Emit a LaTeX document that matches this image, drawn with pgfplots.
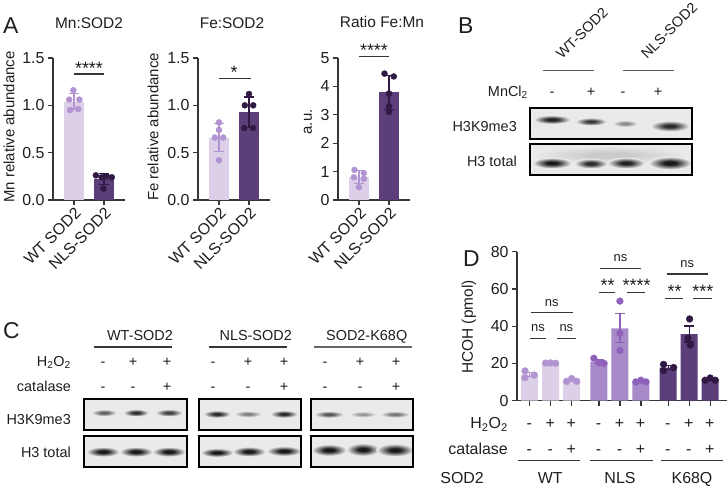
\documentclass[border=0pt]{standalone}
\usepackage{fontspec}
\setmainfont{Liberation Sans}
\usepackage{pgfplots}
\pgfplotsset{compat=1.18}

\definecolor{wtbar}{RGB}{220,208,232}
\definecolor{wtpt}{RGB}{178,148,210}
\definecolor{nlsbar}{RGB}{168,138,200}
\definecolor{nlspt}{RGB}{142,98,186}
\definecolor{dkbar}{RGB}{92,62,122}
\definecolor{dkpt}{RGB}{48,26,68}
\definecolor{axc}{RGB}{55,55,55}
\definecolor{txt}{RGB}{30,30,30}
\definecolor{blotbg}{RGB}{234,234,234}

\newcommand\fs[1]{\fontsize{#1}{#1}\selectfont}
\pgfdeclareradialshading{bandsh}{\pgfpoint{0bp}{0bp}}{rgb(0bp)=(0.08,0.08,0.08); rgb(7bp)=(0.12,0.12,0.12); rgb(24bp)=(0.918,0.918,0.918); rgb(50bp)=(0.918,0.918,0.918)}
\newcommand\band[5]{\shade[shading=bandsh, opacity=#5] (#1,#2) ellipse ({#3} and {#4});}

\tikzset{sig/.style={line width=1.2bp, axc}}
\pgfplotsset{
  myaxis/.style={
    scale only axis, axis x line*=bottom, axis y line*=left,
    axis line style={line width=1.2bp, axc, -},
    tick style={line width=1.2bp, axc},
    tick align=outside, major tick length=5bp,
    clip=false, enlargelimits=false,
    ticklabel style={font=\fs{16}, text=txt},
  },
  panelA/.style={myaxis, width=72bp, height=142bp, xmin=-0.7, xmax=1.7, ymin=0,
    xtick={0,1}, xticklabels={WT SOD2,NLS-SOD2},
    x tick label style={rotate=45, anchor=north east, inner sep=1bp},
  },
  ebar/.style={error bars/.cd, y dir=both, y explicit,
    error bar style={line width=1.2bp, #1},
    error mark options={rotate=90, mark size=5bp, line width=1.2bp, #1}},
  pts/.style={only marks, mark=*, mark size=3bp, #1, mark options={draw=none, fill=#1}},
}

\begin{document}
\begin{tikzpicture}

% ---------------- Panel A: Mn:SOD2
\begin{axis}[panelA, at={(53bp,-200bp)}, anchor=south west, ymax=1.5,
  ytick={0,0.5,1,1.5}, yticklabels={0.0,0.5,1.0,1.5}]
\addplot[ybar, bar width=20bp, bar shift=0pt, fill=wtbar, draw=none, ebar=wtpt] coordinates {(0,1.038) +- (0,0.086)};
\addplot[ybar, bar width=20bp, bar shift=0pt, fill=dkbar, draw=none, ebar=dkpt] coordinates {(1,0.222) +- (0,0.058)};
\addplot[pts=wtpt] coordinates {(-0.02,1.16) (-0.16,1.06) (0.18,1.06) (-0.13,0.95) (0.14,0.96)};
\addplot[pts=dkpt] coordinates {(0.73,0.26) (0.92,0.24) (1.09,0.25) (1.26,0.24) (0.98,0.12)};
\draw[sig] (axis cs:0,1.33) -- (axis cs:1,1.33);
\node[anchor=base, font=\fs{18}, inner sep=0, text=txt] at (axis cs:0.5,1.33) {****};
\end{axis}

% ---------------- Panel A: Fe:SOD2
\begin{axis}[panelA, at={(198bp,-200bp)}, anchor=south west, ymax=1.5,
  ytick={0,0.5,1,1.5}, yticklabels={0.0,0.5,1.0,1.5}]
\addplot[ybar, bar width=20bp, bar shift=0pt, fill=wtbar, draw=none, ebar=wtpt] coordinates {(0,0.66) +- (0,0.15)};
\addplot[ybar, bar width=20bp, bar shift=0pt, fill=dkbar, draw=none, ebar=dkpt] coordinates {(1,0.928) +- (0,0.161)};
\addplot[pts=wtpt] coordinates {(0,0.82) (0,0.74) (-0.14,0.66) (0.14,0.66) (0,0.42)};
\addplot[pts=dkpt] coordinates {(1,1.12) (0.86,1.0) (1.14,1.0) (0.84,0.76) (1.14,0.76)};
\draw[sig] (axis cs:0,1.28) -- (axis cs:1.05,1.28);
\node[anchor=base, font=\fs{18}, inner sep=0, text=txt] at (axis cs:0.5,1.28) {*};
\end{axis}

% ---------------- Panel A: Ratio Fe:Mn
\begin{axis}[panelA, at={(338bp,-200bp)}, anchor=south west, ymax=5,
  ytick={0,1,2,3,4,5}, yticklabels={0,1,2,3,4,5}]
\addplot[ybar, bar width=20bp, bar shift=0pt, fill=wtbar, draw=none, ebar=wtpt] coordinates {(0,0.80) +- (0,0.232)};
\addplot[ybar, bar width=20bp, bar shift=0pt, fill=dkbar, draw=none, ebar=dkpt] coordinates {(1,3.79) +- (0,0.605)};
\addplot[pts=wtpt] coordinates {(-0.15,1.06) (0.16,0.95) (-0.17,0.80) (0.16,0.75) (0,0.45)};
\addplot[pts=dkpt] coordinates {(0.85,4.45) (1.16,4.35) (1,3.75) (1,3.3) (1,3.1)};
\draw[sig] (axis cs:0,5.05) -- (axis cs:1,5.05);
\node[anchor=base, font=\fs{18}, inner sep=0, text=txt] at (axis cs:0.5,5.05) {****};
\end{axis}

% ---------------- Panel D
\begin{axis}[myaxis, at={(517bp,-400.7bp)}, anchor=south west, width=210bp, height=149bp,
  xmin=-0.6, xmax=9.4, ymin=0, ymax=80,
  ytick={0,20,40,60,80}, yticklabels={0,20,40,60,80},
  xtick={0,1,2,3.3,4.3,5.3,6.6,7.6,8.6}, xticklabels={}]
\addplot[ybar, bar width=17bp, bar shift=0pt, fill=wtbar, draw=none, ebar=wtpt] coordinates {(0,14.0) +- (0,1.15) (1,20.2) +- (0,0.3) (2,10.9) +- (0,0.5)};
\addplot[ybar, bar width=17bp, bar shift=0pt, fill=nlsbar, draw=none, ebar=nlspt] coordinates {(3.3,21.0) +- (0,0.9) (4.3,38.9) +- (0,7.8) (5.3,10.4) +- (0,0.3)};
\addplot[ybar, bar width=17bp, bar shift=0pt, fill=dkbar, draw=none, ebar=dkpt] coordinates {(6.6,17.8) +- (0,0.98) (7.6,35.8) +- (0,4.3) (8.6,11.4) +- (0,0.43)};
\addplot[pts=wtpt, mark size=3.4bp] coordinates {(-0.22,16.0) (0.22,13.8) (-0.22,12.4) (0.76,20.2) (1,20.3) (1.24,20.1) (1.76,10.4) (2,11.9) (2.24,10.4)};
\addplot[pts=nlspt, mark size=3.4bp] coordinates {(3.06,22.8) (3.3,20.4) (3.54,20.0) (4.3,53.5) (4.3,36.2) (4.3,27.0) (5.06,10.1) (5.3,11.0) (5.54,10.1)};
\addplot[pts=dkpt, mark size=3.4bp] coordinates {(6.38,19.5) (6.38,16.2) (6.86,17.8) (7.62,43.9) (7.54,33.5) (7.65,29.9) (8.36,11.0) (8.6,12.2) (8.84,11.0)};
% significance
\draw[sig] (axis cs:0.05,47.2) -- (axis cs:2.05,47.2);
\draw[sig] (axis cs:0.0,33.5) -- (axis cs:0.8,33.5);
\draw[sig] (axis cs:1.3,33.5) -- (axis cs:2.2,33.5);
\draw[sig] (axis cs:3.37,71.1) -- (axis cs:5.3,71.1);
\draw[sig] (axis cs:3.29,58.2) -- (axis cs:4.08,58.2);
\draw[sig] (axis cs:4.64,58.2) -- (axis cs:5.51,58.2);
\draw[sig] (axis cs:6.54,68) -- (axis cs:8.48,68);
\draw[sig] (axis cs:6.46,55) -- (axis cs:7.29,55);
\draw[sig] (axis cs:7.78,55) -- (axis cs:8.69,55);
\node[font=\fs{13}, anchor=base, inner sep=0, text=txt] at (axis cs:1.05,50.6) {ns};
\node[font=\fs{13}, anchor=base, inner sep=0, text=txt] at (axis cs:0.4,36.9) {ns};
\node[font=\fs{13}, anchor=base, inner sep=0, text=txt] at (axis cs:1.75,36.9) {ns};
\node[font=\fs{13}, anchor=base, inner sep=0, text=txt] at (axis cs:4.33,74.5) {ns};
\node[font=\fs{13}, anchor=base, inner sep=0, text=txt] at (axis cs:7.51,71.4) {ns};
\node[font=\fs{18}, anchor=base, inner sep=0, text=txt] at (axis cs:3.72,58.4) {**};
\node[font=\fs{18}, anchor=base, inner sep=0, text=txt] at (axis cs:5.1,58.4) {****};
\node[font=\fs{18}, anchor=base, inner sep=0, text=txt] at (axis cs:6.9,55.2) {**};
\node[font=\fs{18}, anchor=base, inner sep=0, text=txt] at (axis cs:8.25,55.2) {***};
\end{axis}

% ---------------- absolute annotations, blots
\begin{scope}[x=1bp, y=-1bp, every node/.style={inner sep=0, text=txt}]
% panel letters
\node[anchor=base west, font=\fs{23}] at (3,33) {A};
\node[anchor=base west, font=\fs{23}] at (458,33) {B};
\node[anchor=base west, font=\fs{23}] at (3,338) {C};
\node[anchor=base west, font=\fs{23}] at (463,266) {D};
% titles A
\node[anchor=base, font=\fs{15.5}] at (89,28.3) {Mn:SOD2};
\node[anchor=base, font=\fs{15.5}] at (232,28.3) {Fe:SOD2};
\node[anchor=base, font=\fs{15.5}] at (382,27.5) {Ratio Fe:Mn};
% y labels
\node[rotate=90, font=\fs{15}] at (9,127) {Mn relative abundance};
\node[rotate=90, font=\fs{15}] at (153,127) {Fe relative abundance};
\node[rotate=90, font=\fs{15}] at (308,122) {a.u.};
\node[rotate=90, font=\fs{15.5}] at (469,327) {HCOH (pmol)};

% ---------- Panel D bottom rows
\node[font=\fs{16}, anchor=base east] at (508,428.5) {H\textsubscript{2}O\textsubscript{2}};
\node[font=\fs{16}, anchor=base east] at (508,454) {catalase};
\node[font=\fs{16}, anchor=base east] at (484,483.3) {SOD2};
\foreach \x/\s in {529.3/-,550.3/+,571.3/+,598.6/-,619.6/+,640.6/+,667.9/-,688.9/+,709.9/+}{
  \node[font=\fs{16}, anchor=base] at (\x,428.5) {\s};}
\foreach \x/\s in {529.3/-,550.3/-,571.3/+,598.6/-,619.6/-,640.6/+,667.9/-,688.9/-,709.9/+}{
  \node[font=\fs{16}, anchor=base] at (\x,454) {\s};}
\node[font=\fs{16}, anchor=base] at (550.3,483.3) {WT};
\node[font=\fs{16}, anchor=base] at (620,483.3) {NLS};
\node[font=\fs{16}, anchor=base] at (692,483.3) {K68Q};
\draw[line width=1bp, axc] (518,460.7) -- (580,460.7);
\draw[line width=1bp, axc] (590,460.7) -- (653,460.7);
\draw[line width=1bp, axc] (661,460.7) -- (723,460.7);

% ---------- Panel B
\node[anchor=base west, rotate=45, font=\fs{14.5}] at (562,60) {WT-SOD2};
\node[anchor=base west, rotate=45, font=\fs{14.5}] at (647,60) {NLS-SOD2};
\draw[line width=1.4bp, black!65] (543,70.7) -- (594,70.7);
\draw[line width=1.4bp, black!65] (623,70.7) -- (674,70.7);
\node[anchor=base east, font=\fs{14.5}] at (528,96.5) {MnCl\textsubscript{2}};
\foreach \x/\s in {552/-,591/+,623/-,658/+}{\node[anchor=base, font=\fs{14.5}] at (\x,96.5) {\s};}
\node[anchor=base east, font=\fs{14.5}] at (517,131.5) {H3K9me3};
\node[anchor=base east, font=\fs{14.5}] at (517,166.5) {H3 total};
\fill[blotbg] (530,108) rectangle (692,139);
\fill[blotbg] (530,144) rectangle (692,175);
\band{552}{119.5}{19}{4.5}{0.95}
\band{591}{121.5}{16}{4}{0.85}
\band{625}{123.5}{13}{3.5}{0.45}
\band{670}{126}{20}{5.5}{0.9}
\band{610}{155}{80}{9}{0.15}
\band{552}{163}{20}{5.5}{1}
\band{591}{163.5}{17}{5}{0.9}
\band{626}{163}{19}{5.5}{0.95}
\band{670}{163}{22}{6.5}{1}
\draw[line width=2bp, black] (530,108) rectangle (692,139);
\draw[line width=2bp, black] (530,144) rectangle (692,175);

% ---------- Panel C
\node[anchor=base, font=\fs{14.5}] at (140,340.7) {WT-SOD2};
\node[anchor=base, font=\fs{14.5}] at (255.7,340.7) {NLS-SOD2};
\node[anchor=base, font=\fs{14.5}] at (366.7,340.7) {SOD2-K68Q};
\draw[line width=1.2bp, axc] (94,347) -- (172,347);
\draw[line width=1.2bp, axc] (209,347) -- (287,347);
\draw[line width=1.2bp, black!60] (314,347) -- (412,347);
\node[anchor=base east, font=\fs{14.5}] at (71,366) {H\textsubscript{2}O\textsubscript{2}};
\node[anchor=base east, font=\fs{14.5}] at (71,391.7) {catalase};
\foreach \x/\s in {103/-,133/+,167/+,213/-,248/+,284/+,325/-,360/+,396/+}{\node[anchor=base, font=\fs{14.5}] at (\x,366) {\s};}
\foreach \x/\s in {103/-,133/-,167/+,213/-,248/-,284/+,325/-,360/-,396/+}{\node[anchor=base, font=\fs{14.5}] at (\x,391.7) {\s};}
\node[anchor=base east, font=\fs{14.5}] at (71,424) {H3K9me3};
\node[anchor=base east, font=\fs{14.5}] at (71,457.3) {H3 total};
\foreach \a/\b in {84/187,199/301,311/413}{
  \fill[blotbg] (\a,399) rectangle (\b,430);
  \fill[blotbg] (\a,436) rectangle (\b,467);}
% H3K9me3 bands
\band{104}{412.7}{13}{3.5}{0.65}
\band{136}{412.7}{13}{3.8}{0.9}
\band{169}{412.7}{14}{3.8}{0.8}
\band{217}{414}{14}{3.8}{0.9}
\band{248}{414}{14}{3.3}{0.5}
\band{284}{414}{14}{3.8}{0.9}
\band{329}{414.3}{15}{3.5}{0.7}
\band{363}{414.3}{14}{3}{0.4}
\band{395}{414.3}{15}{3.3}{0.55}
% H3 total bands
\band{103}{451.7}{17}{5}{1}
\band{136}{451.7}{17}{5}{1}
\band{169}{451.7}{17}{5}{1}
\band{217}{452.5}{17}{4.5}{1}
\band{249}{451.5}{17}{5}{1}
\band{284}{451}{18}{5}{1}
\band{329}{450}{18}{6}{1}
\band{363}{449.5}{17}{6.5}{1}
\band{395}{450}{19}{6.5}{1}
\foreach \a/\b in {84/187,199/301,311/413}{
  \draw[line width=2bp, black] (\a,399) rectangle (\b,430);
  \draw[line width=2bp, black] (\a,436) rectangle (\b,467);}
\end{scope}

\pgfresetboundingbox
\path[use as bounding box] (0,0) rectangle (728bp,-486bp);
\end{tikzpicture}
\end{document}
